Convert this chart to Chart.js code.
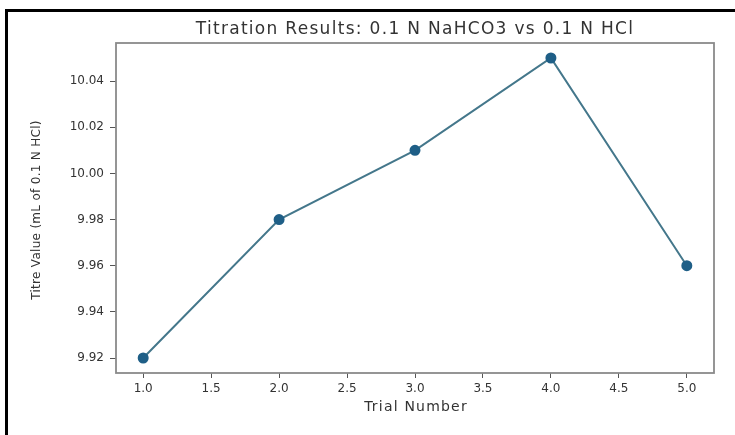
<!DOCTYPE html>
<html>
<head>
<meta charset="utf-8">
<script src="https://cdn.jsdelivr.net/npm/chart.js@4.4.1/dist/chart.umd.min.js"></script>
<style>
  html, body { margin: 0; padding: 0; background: #fff; }
  #wrap { position: relative; width: 735px; height: 435px; }
</style>
</head>
<body>
<div id="wrap"><canvas id="chart" width="735" height="435"></canvas></div>
<script>
const trials = [1, 2, 3, 4, 5];
const titreValues = [9.92, 9.98, 10.01, 10.05, 9.96];
const xTicks = [1.0, 1.5, 2.0, 2.5, 3.0, 3.5, 4.0, 4.5, 5.0];
const yTicks = [9.92, 9.94, 9.96, 9.98, 10.00, 10.02, 10.04];

const chartTitle = 'Titration Results: 0.1 N NaHCO3 vs 0.1 N HCl';
const xLabel = 'Trial Number';
const yLabel = 'Titre Value (mL of 0.1 N HCl)';

// plot box in page pixels
const box = { left: 116, top: 43, right: 714, bottom: 373 };

// frame, title and axis labels drawn around the chart area
const decorations = {
  id: 'decorations',
  afterDraw(chart) {
    const ctx = chart.ctx;
    const a = chart.chartArea;
    const cx = (a.left + a.right) / 2;
    ctx.save();
    // outer black frame (top and left only)
    ctx.fillStyle = '#000';
    ctx.fillRect(5, 9, 730, 3);
    ctx.fillRect(5, 9, 3, 426);
    // plot spines
    ctx.strokeStyle = '#8a8a8a';
    ctx.lineWidth = 1.8;
    ctx.strokeRect(a.left, a.top, a.right - a.left, a.bottom - a.top);
    // texts
    ctx.fillStyle = '#333';
    ctx.textAlign = 'center';
    ctx.textBaseline = 'middle';
    ctx.font = '17px "DejaVu Sans"';
    ctx.letterSpacing = '1.3px';
    ctx.fillText(chartTitle, cx, 30);
    ctx.font = '14px "DejaVu Sans"';
    ctx.letterSpacing = '1.2px';
    ctx.fillText(xLabel, cx + 1, 407);
    ctx.translate(37, (a.top + a.bottom) / 2 + 2);
    ctx.rotate(-Math.PI / 2);
    ctx.font = '12px "DejaVu Sans"';
    ctx.letterSpacing = '0.3px';
    ctx.fillText(yLabel, 0, 0);
    ctx.restore();
  }
};

new Chart(document.getElementById('chart'), {
  type: 'line',
  data: {
    datasets: [{
      data: trials.map((t, i) => ({ x: t, y: titreValues[i] })),
      borderColor: '#44778b',
      borderWidth: 2,
      pointBackgroundColor: '#1f5f87',
      pointBorderColor: '#1f5f87',
      pointRadius: 4.5,
      tension: 0
    }]
  },
  options: {
    responsive: false,
    animation: false,
    layout: {
      padding: { left: 0, top: box.top, right: 735 - box.right, bottom: 0 }
    },
    plugins: {
      legend: { display: false },
      title: { display: false },
      tooltip: { enabled: false }
    },
    scales: {
      x: {
        type: 'linear',
        min: 0.8,
        max: 5.2,
        afterBuildTicks: s => { s.ticks = xTicks.map(v => ({ value: v })); },
        afterFit: s => { s.height = 435 - box.bottom; },
        grid: { drawOnChartArea: false, drawTicks: true, tickLength: 5, tickColor: '#555', tickWidth: 1 },
        border: { display: false },
        ticks: {
          color: '#333',
          font: { family: 'DejaVu Sans', size: 12 },
          padding: 4,
          maxRotation: 0,
          callback: v => v.toFixed(1)
        }
      },
      y: {
        type: 'linear',
        min: 9.9135,
        max: 10.0565,
        afterBuildTicks: s => { s.ticks = yTicks.map(v => ({ value: v })); },
        afterFit: s => { s.width = box.left; },
        grid: { drawOnChartArea: false, drawTicks: true, tickLength: 6, tickColor: '#555', tickWidth: 1 },
        border: { display: false },
        ticks: {
          color: '#333',
          font: { family: 'DejaVu Sans', size: 12 },
          padding: 6,
          callback: v => v.toFixed(2)
        }
      }
    }
  },
  plugins: [decorations]
});
</script>
</body>
</html>
